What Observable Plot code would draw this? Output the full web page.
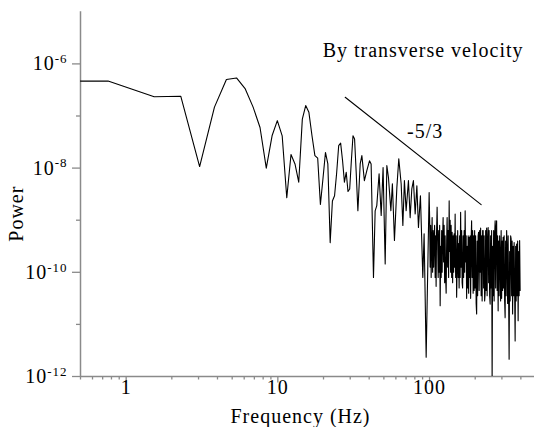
<!DOCTYPE html>
<html>
<head>
<meta charset="utf-8">
<script src="https://cdn.jsdelivr.net/npm/d3@7"></script>
<script src="https://cdn.jsdelivr.net/npm/@observablehq/plot@0.6"></script>
<style>
  html, body { margin: 0; padding: 0; background: #fff; }
  #chart { width: 534px; height: 427px; }
  #chart svg text, #chart svg tspan { font-family: 'Liberation Serif', 'Times New Roman', Times, serif !important; }
</style>
</head>
<body>
<div id="chart"></div>
<script>
// ---- data (frequency in Hz, power as log10) ----
const freqHz = [
  0.5, 0.76, 1.53, 2.29, 3.05, 3.82, 4.58, 5.34, 6.10, 6.87,
  7.63, 8.39, 9.16, 9.92, 10.68, 11.45, 12.21, 12.97, 13.73, 14.50,
  15.26, 16.02, 16.79, 17.55, 18.31, 19.08, 19.84, 20.60, 21.36, 22.13,
  22.89, 23.65, 24.42, 25.18, 25.94, 26.71, 27.47, 28.23, 29.00, 29.76,
  30.52, 31.29, 32.05, 32.81,
  33.7, 34.9, 35.8, 37.2, 38.6, 40.2, 41.2, 42.7, 43.8, 44.9,
  46.5, 48.0, 49.4, 51.0, 52.3, 53.6, 55.6, 56.9, 58.7, 60.9,
  62.7, 65.0, 66.7, 68.3, 70.1, 72.6, 74.5, 76.4, 78.3, 80.4,
  82.5, 84.5, 87.1, 90.3, 92.1, 95.0,
  99.4, 100.2, 100.9, 101.7, 102.5, 103.3, 104.0, 104.8, 105.6, 106.4,
  107.2, 108.0, 108.9, 109.7, 110.5, 111.3, 112.2, 113.1, 114.0, 114.9,
  115.7, 116.6, 117.5, 118.4, 119.3, 120.2, 121.1, 122.0, 122.9, 123.8,
  124.8, 125.8, 126.7, 127.7, 128.7, 129.7, 130.6, 131.6, 132.6, 133.6,
  134.7, 135.7, 136.7, 137.7, 138.8, 139.9, 140.9, 142.0, 143.1, 144.2,
  145.3, 146.4, 147.5, 148.6, 149.8, 150.9, 152.1, 153.3, 154.4, 155.6,
  156.7, 157.9, 159.1, 160.3, 161.6, 162.8, 164.0, 165.2, 166.5, 167.8,
  169.1, 170.4, 171.7, 173.0, 174.3, 175.6, 177.0, 178.3, 179.7, 181.1,
  182.4, 183.8, 185.2, 186.6, 188.0, 189.4, 190.9, 192.4, 193.8, 195.3,
  196.8, 198.3, 199.8, 201.3, 202.9, 204.4, 206.0, 207.6, 209.1, 210.7,
  212.3, 213.9, 215.6, 217.2, 218.9, 220.6, 222.2, 223.9, 225.6, 227.3,
  229.1, 230.8, 232.6, 234.4, 236.1, 237.9, 239.7, 241.5, 243.4, 245.3,
  247.1, 249.0, 250.9, 252.8, 254.7, 256.6, 258.6, 260.6, 262.6, 264.6,
  266.6, 268.6, 270.7, 272.8, 274.8, 276.9, 279.0, 281.1, 283.3, 285.5,
  287.6, 289.8, 292.0, 294.2, 296.5, 298.8, 301.0, 303.3, 305.6, 307.9,
  310.3, 312.7, 315.0, 317.4, 319.9, 322.3, 324.7, 327.2, 329.7, 332.2,
  334.7, 337.3, 339.9, 342.5, 345.1, 347.7, 350.3, 353.0, 355.7, 358.4,
  361.2, 363.9, 366.7, 369.5, 372.3, 375.1, 378.0, 380.9, 383.8, 386.7,
  389.7, 392.6, 395.6
];
const logPower = [
  -6.33, -6.33, -6.63, -6.62, -7.97, -6.83, -6.30, -6.27, -6.48, -6.83,
  -7.22, -8.00, -7.38, -7.09, -7.38, -8.57, -7.74, -7.92, -8.27, -7.06,
  -6.80, -6.93, -7.38, -7.76, -7.81, -8.70, -8.20, -7.70, -7.92, -9.43,
  -8.63, -8.53, -8.09, -7.57, -7.52, -7.86, -8.27, -8.08, -8.45, -8.40,
  -7.86, -7.38, -7.44, -8.05,
  -8.82, -7.92, -7.76, -8.24, -8.05, -7.86, -7.92, -10.10, -8.82, -8.72,
  -8.11, -8.91, -7.99, -9.84, -7.95, -8.18, -8.82, -8.30, -9.39, -8.37,
  -7.82, -8.30, -9.10, -8.24, -8.82, -8.24, -8.95, -8.40, -8.24, -8.88,
  -8.34, -9.14, -8.53, -10.10, -9.26, -11.63,
  -8.47, -9.0, -9.9, -9.1, -10.1, -9.39, -8.95, -10.0, -9.2, -9.9,
  -9.33, -9.1, -10.1, -9.3, -10.27, -9.2, -8.75, -9.4, -10.1, -9.2,
  -10.0, -9.1, -10.64, -9.5, -10.1, -9.2, -10.0, -9.3, -8.95, -9.8,
  -9.1, -10.2, -9.3, -10.1, -10.4, -9.4, -8.95, -9.9, -9.2, -10.1,
  -8.63, -9.6, -9.0, -10.0, -9.1, -10.1, -9.23, -10.2, -9.3, -10.0,
  -9.26, -9.9, -8.88, -10.1, -9.3, -10.48, -9.8, -9.2, -10.1, -9.45,
  -10.3, -9.3, -10.1, -8.85, -9.9, -9.2, -10.2, -10.3, -9.3, -10.1,
  -9.2, -10.0, -8.82, -9.8, -9.3, -10.5, -9.5, -10.3, -9.3, -10.4,
  -9.33, -10.1, -9.3, -10.5, -9.4, -9.01, -10.1, -9.2, -10.4, -9.3,
  -10.35, -9.2, -10.3, -9.3, -10.6, -10.8, -9.4, -10.45, -9.3, -9.23,
  -10.35, -9.2, -10.0, -9.15, -10.45, -9.3, -10.55, -9.2, -9.2, -10.3,
  -9.3, -10.55, -10.4, -9.2, -10.35, -9.15, -10.45, -9.4, -9.14, -10.2,
  -9.2, -10.45, -10.61, -9.3, -10.3, -9.2, -12.1, -9.5, -10.45, -9.2,
  -10.55, -9.3, -9.01, -10.3, -9.15, -9.01, -10.35, -9.3, -10.74, -9.4,
  -10.45, -9.3, -9.71, -10.55, -9.2, -10.5, -9.4, -10.35, -9.33, -10.3,
  -9.3, -10.55, -10.87, -9.4, -10.45, -9.2, -9.59, -10.6, -9.3, -10.45,
  -11.67, -9.6, -10.55, -9.3, -9.36, -10.45, -9.4, -10.8, -9.5, -10.45,
  -9.43, -10.35, -11.32, -9.5, -10.55, -9.46, -10.45, -9.4, -10.93, -9.6,
  -10.45, -9.39, -10.35
];
// -5/3 reference slope line (endpoints)
const slopeFreq = [27.8, 218.9];
const slopeLogPower = [-6.64, -8.70];
// ticks
const xMajorTicks = [1, 10, 100];
const xMinorTicks = [0.5, 0.6, 0.7, 0.8, 0.9, 2, 3, 4, 5, 6, 7, 8, 9, 20, 30, 40, 50, 60, 70, 80, 90, 200, 300, 400];
const yMajorTicks = [1e-6, 1e-8, 1e-10, 1e-12];
const yMinorTicks = [1e-7, 1e-9, 1e-11];
// texts
const titleText = "By transverse velocity";
const slopeLabel = "-5/3";
const xLabel = "Frequency (Hz)";
const yLabel = "Power";

// ---- build ----
const n = Math.min(freqHz.length, logPower.length);
const spectrum = d3.range(n).map(i => ({f: freqHz[i], p: 10 ** logPower[i]}));
const slope = slopeFreq.map((f, i) => ({f, p: 10 ** slopeLogPower[i]}));
const slopeText = [{f: 93.5, p: 10 ** -7.30, t: slopeLabel}];

const axisGray = "#8a8a8a";
const font = "'Liberation Serif', 'Times New Roman', Times, serif";

const chart = Plot.plot({
  width: 534,
  height: 427,
  marginLeft: 80,
  marginRight: 0,
  marginTop: 11.3,
  marginBottom: 51,
  x: {type: "log", domain: [0.5, 492], label: null},
  y: {type: "log", domain: [1e-12, 1e-5], label: null},
  style: {fontFamily: font, fontSize: "20px", letterSpacing: "1px", background: "white", color: "black", overflow: "visible"},
  marks: [
    Plot.axisX(xMinorTicks, {tickSize: 3.5, stroke: axisGray, strokeWidth: 1.3, tickFormat: () => "", label: null}),
    Plot.axisX(xMajorTicks, {tickSize: 6.5, tickPadding: -3, stroke: axisGray, strokeWidth: 1.3, fill: "black", fontSize: 20, fontFamily: font, tickFormat: d => String(d), label: null}),
    Plot.axisY(yMinorTicks, {tickSize: 4, stroke: axisGray, strokeWidth: 1.3, tickFormat: () => "", label: null}),
    Plot.axisY(yMajorTicks, {tickSize: 8, tickPadding: 5, stroke: axisGray, strokeWidth: 1.3, fill: "black", fontSize: 20, fontFamily: font, tickFormat: d => `10^${Math.round(Math.log10(d))}`, label: null}),
    Plot.ruleY([1e-12], {stroke: axisGray, strokeWidth: 1.5}),
    Plot.ruleX([0.5], {stroke: axisGray, strokeWidth: 1.5}),
    Plot.line(spectrum, {x: "f", y: "p", stroke: "black", strokeWidth: 1.1, clip: true}),
    Plot.line(slope, {x: "f", y: "p", stroke: "black", strokeWidth: 1.1}),
    Plot.text(slopeText, {x: "f", y: "p", text: "t", fontSize: 20, fontFamily: font, fill: "black"}),
    Plot.text([titleText], {frameAnchor: "top-right", dx: -11, dy: 38.7, textAnchor: "end", lineAnchor: "middle", fontSize: 20, fontFamily: font, fill: "black"}),
    Plot.text([xLabel], {frameAnchor: "bottom", dx: -7, dy: 40, lineAnchor: "middle", fontSize: 20, fontFamily: font, fill: "black"}),
    Plot.text([yLabel], {frameAnchor: "left", dx: -64, dy: 19.5, rotate: -90, lineAnchor: "middle", textAnchor: "middle", fontSize: 20, fontFamily: font, fill: "black"})
  ]
});

// superscript exponents on the y tick labels
d3.select(chart).selectAll('g[aria-label="y-axis tick label"] text').each(function () {
  const s = this.textContent;
  const i = s.indexOf("^");
  if (i < 0) return;
  const base = s.slice(0, i), exp = s.slice(i + 1);
  this.textContent = base;
  d3.select(this).append("tspan").attr("dy", "-0.55em").style("font-size", "13px").text(exp);
});
d3.select(chart).selectAll("text").style("font-family", font);

document.getElementById("chart").appendChild(chart);
</script>
</body>
</html>
